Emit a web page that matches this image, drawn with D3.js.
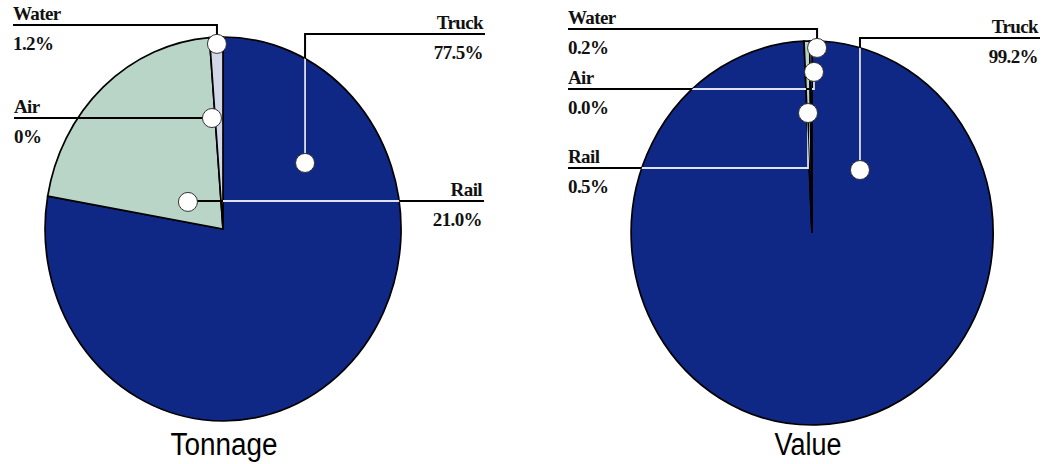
<!DOCTYPE html>
<html>
<head>
<meta charset="utf-8">
<script src="https://cdn.jsdelivr.net/npm/d3@7"></script>
<style>
  body { margin: 0; background: #fff; }
  svg { display: block; }
  .lbl { font-family: "Liberation Serif", "Times New Roman", serif; font-weight: bold; font-size: 19px; fill: #111; }
  .title { font-family: "Liberation Sans", Arial, sans-serif; font-size: 31px; fill: #000; }
</style>
</head>
<body>
<div id="chart"></div>
<script>
// data
const modes = ["Truck", "Rail", "Air", "Water"];
const tonnageShare = [77.5, 21.0, 0, 1.2];
const valueShare = [99.2, 0.5, 0.0, 0.2];
const tonnageLabels = ["77.5%", "21.0%", "0%", "1.2%"];
const valueLabels = ["99.2%", "0.5%", "0.0%", "0.2%"];
const chartTitles = ["Tonnage", "Value"];

const width = 1055;
const height = 464;
const colors = { Truck: "#0f2886", Rail: "#b8d5c7", Air: "#c9dccf", Water: "#d2d7e7" };

// layout for each pie: ellipse box, label anchors (unit coords) and label lines
const pies = [
  {
    values: tonnageShare, labels: tonnageLabels, title: chartTitles[0],
    cx: 223, cy: 229, rx: 178, ry: 192, titleX: 224, titleLen: 107,
    anchors: {
      Truck: { u: 0.461, v: -0.344, lineY: 34, textX: 485, side: "right" },
      Rail: { u: -0.197, v: -0.141, lineY: 201, textX: 484, side: "right" },
      Air: { u: -0.062, v: -0.578, lineY: 118, textX: 14, side: "left" },
      Water: { u: -0.034, v: -0.964, lineY: 25, textX: 13, side: "left" }
    }
  },
  {
    values: valueShare, labels: valueLabels, title: chartTitles[1],
    cx: 812, cy: 233, rx: 181, ry: 192, titleX: 808, titleLen: 67,
    anchors: {
      Truck: { u: 0.265, v: -0.328, lineY: 38, textX: 1040, side: "right" },
      Rail: { u: -0.022, v: -0.625, lineY: 168, textX: 568, side: "left" },
      Air: { u: 0.011, v: -0.839, lineY: 89, textX: 568, side: "left" },
      Water: { u: 0.028, v: -0.964, lineY: 29, textX: 568, side: "left" }
    }
  }
];

const svg = d3.select("#chart").append("svg")
  .attr("width", width)
  .attr("height", height);

svg.append("rect").attr("width", width).attr("height", height).attr("fill", "#fff");

const pie = d3.pie().sort(null).value((d) => d.value);
const arc = d3.arc().innerRadius(0).outerRadius(1);

pies.forEach((p, i) => {
  const x = d3.scaleLinear().domain([-1, 1]).range([p.cx - p.rx, p.cx + p.rx]);
  const y = d3.scaleLinear().domain([-1, 1]).range([p.cy - p.ry, p.cy + p.ry]);
  const rows = modes.map((m, k) => ({ mode: m, value: p.values[k], label: p.labels[k] }));
  const arcs = pie(rows);
  const tf = `translate(${x(0)},${y(0)}) scale(${x(1) - x(0)},${y(1) - y(0)})`;

  const g = svg.append("g");

  // slices
  g.append("g").attr("transform", tf)
    .selectAll("path")
    .data(arcs.filter((d) => d.value > 0))
    .join("path")
    .attr("d", arc)
    .attr("fill", (d) => colors[d.data.mode])
    .attr("stroke", "#000")
    .attr("stroke-width", 1.7)
    .attr("vector-effect", "non-scaling-stroke");

  // clip of the dark slice, where leader lines turn white
  const clipId = "dark-" + i;
  svg.append("clipPath").attr("id", clipId)
    .append("path")
    .attr("transform", tf)
    .attr("d", arc(arcs.find((d) => d.data.mode === "Truck")));

  const leaders = rows.map((r) => {
    const a = p.anchors[r.mode];
    const ax = x(a.u), ay = y(a.v);
    return { ...r, ...a, ax, ay, pts: [[a.textX, a.lineY], [ax, a.lineY], [ax, ay]] };
  });
  const line = d3.line();

  g.append("g").selectAll("path")
    .data(leaders)
    .join("path")
    .attr("d", (d) => line(d.pts))
    .attr("fill", "none")
    .attr("stroke", "#000")
    .attr("stroke-width", 2);

  g.append("g").attr("clip-path", `url(#${clipId})`)
    .selectAll("path")
    .data(leaders)
    .join("path")
    .attr("d", (d) => line(d.pts))
    .attr("fill", "none")
    .attr("stroke", "#dfe3f2")
    .attr("stroke-width", 1.8);

  g.append("g").selectAll("circle")
    .data(leaders)
    .join("circle")
    .attr("cx", (d) => d.ax)
    .attr("cy", (d) => d.ay)
    .attr("r", 9.5)
    .attr("fill", "#fff")
    .attr("stroke", "#333")
    .attr("stroke-width", 1);

  const txt = g.append("g").selectAll("g")
    .data(leaders)
    .join("g");
  txt.append("text")
    .attr("class", "lbl")
    .attr("x", (d) => d.textX + (d.side === "right" ? -2 : 0))
    .attr("y", (d) => d.lineY - 5)
    .attr("text-anchor", (d) => (d.side === "right" ? "end" : "start"))
    .attr("letter-spacing", -0.6)
    .text((d) => d.mode);
  txt.append("text")
    .attr("class", "lbl")
    .attr("x", (d) => d.textX + (d.side === "right" ? -2 : 0))
    .attr("y", (d) => d.lineY + 25)
    .attr("text-anchor", (d) => (d.side === "right" ? "end" : "start"))
    .attr("letter-spacing", -0.6)
    .text((d) => d.label);

  svg.append("text")
    .attr("class", "title")
    .attr("x", p.titleX)
    .attr("y", 455)
    .attr("text-anchor", "middle")
    .attr("textLength", p.titleLen)
    .attr("lengthAdjust", "spacingAndGlyphs")
    .text(p.title);
});
</script>
</body>
</html>
